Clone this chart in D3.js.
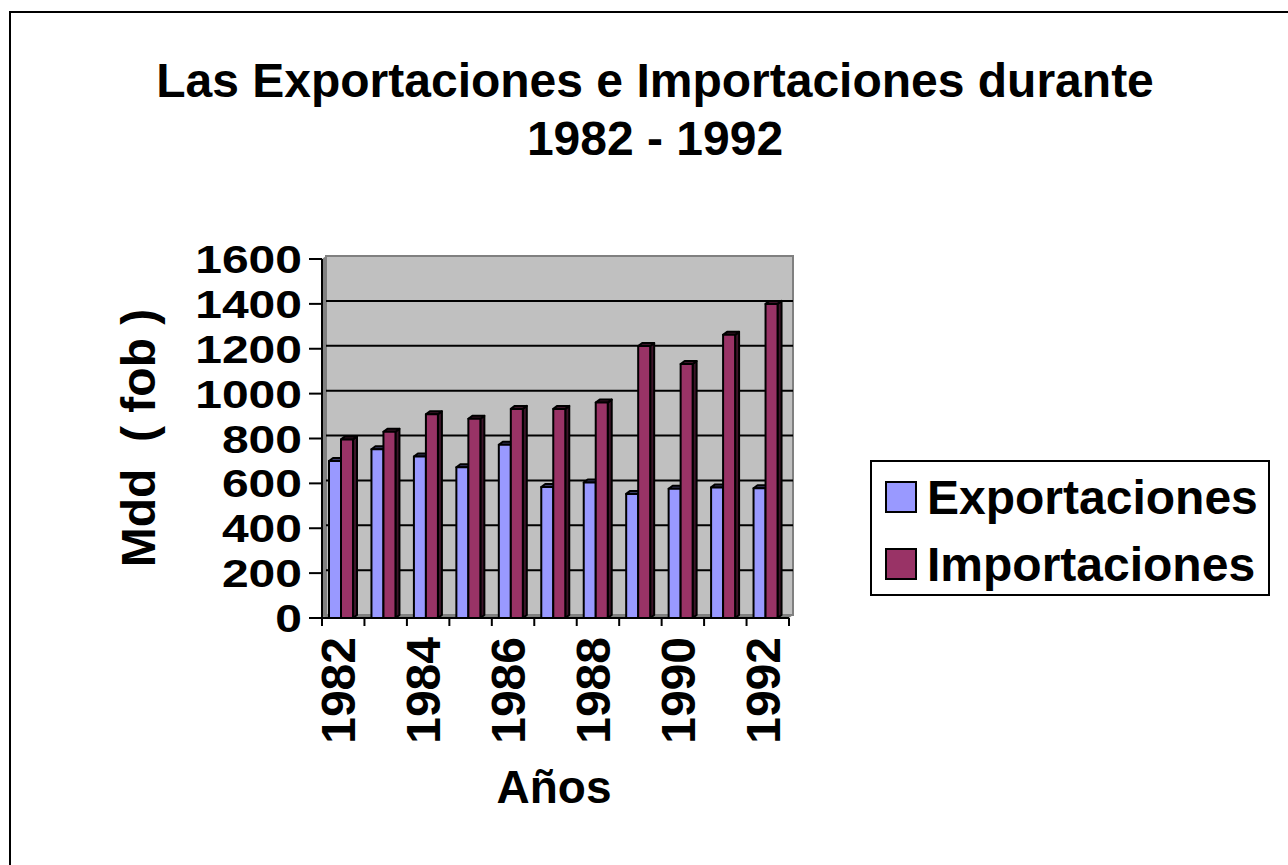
<!DOCTYPE html>
<html>
<head>
<meta charset="utf-8">
<script src="https://cdn.jsdelivr.net/npm/d3@7"></script>
<style>
  body { margin: 0; background: #fff; }
  svg { display: block; font-family: 'Liberation Sans', Arial, sans-serif; font-weight: bold; }
</style>
</head>
<body>
<script>
const years = ['1982', '1983', '1984', '1985', '1986', '1987', '1988', '1989', '1990', '1991', '1992'];
const yearLabels = ['1982', '1984', '1986', '1988', '1990', '1992'];
const exportaciones = [700, 752, 720, 672, 772, 584, 604, 553, 576, 582, 578];
const importaciones = [796, 830, 908, 888, 932, 932, 960, 1212, 1132, 1262, 1400];
const series = ['Exportaciones', 'Importaciones'];
const yTicks = [0, 200, 400, 600, 800, 1000, 1200, 1400, 1600];

const width = 1288;
const height = 865;
const colors = { Exportaciones: '#9999FF', Importaciones: '#993366' };
const darkColors = { Exportaciones: '#3d3d66', Importaciones: '#3d1429' };
const depth = { x: 4, y: -3 };

const svg = d3.select('body')
    .append('svg')
    .attr('width', width)
    .attr('height', height);

// outer frame (right and bottom run off the page)
svg.append('rect')
    .attr('x', 10)
    .attr('y', 12)
    .attr('width', width + 20)
    .attr('height', height + 20)
    .attr('fill', '#fff')
    .attr('stroke', '#000')
    .attr('stroke-width', 2);

// title
const title = svg.append('text')
    .attr('text-anchor', 'middle')
    .style('font-size', '48px');
title.append('tspan').attr('x', 655).attr('y', 97).text('Las Exportaciones e Importaciones durante');
title.append('tspan').attr('x', 655).attr('y', 155).text('1982 - 1992');

const xScale = d3.scaleBand()
    .domain(years)
    .range([322, 789]);

const inner = d3.scaleBand()
    .domain(series)
    .range([7, 31]);

const yScale = d3.scaleLinear()
    .domain([0, 1600])
    .range([618, 259]);

// 3D walls
const x0 = xScale.range()[0], x1 = xScale.range()[1];
const yTop = yScale(1600), yBot = yScale(0);

svg.append('polygon')
    .attr('points', [[x0, yBot], [x1, yBot], [x1 + depth.x, yBot + depth.y], [x0 + depth.x, yBot + depth.y]].join(' '))
    .attr('fill', '#808080');

svg.append('polygon')
    .attr('points', [[x0, yTop], [x0 + depth.x, yTop + depth.y], [x0 + depth.x, yBot + depth.y], [x0, yBot]].join(' '))
    .attr('fill', '#808080');

svg.append('rect')
    .attr('x', x0 + depth.x)
    .attr('y', yTop + depth.y)
    .attr('width', x1 - x0)
    .attr('height', yBot - yTop)
    .attr('fill', '#C0C0C0')
    .attr('stroke', '#808080')
    .attr('stroke-width', 2);

// gridlines on back wall
svg.append('g')
    .selectAll('line')
    .data(yTicks.filter(d => d > 0 && d < 1600))
    .enter()
    .append('line')
    .attr('x1', x0 + depth.x)
    .attr('x2', x1 + depth.x)
    .attr('y1', d => yScale(d) + depth.y)
    .attr('y2', d => yScale(d) + depth.y)
    .attr('stroke', '#000')
    .attr('stroke-width', 2);

// bars
const rows = years.map((y, i) => ({ year: y, Exportaciones: exportaciones[i], Importaciones: importaciones[i] }));

const bars = [];
rows.forEach(r => series.forEach(s => bars.push({ year: r.year, key: s, value: r[s] })));

const barG = svg.append('g')
    .selectAll('g')
    .data(bars)
    .enter()
    .append('g')
    .attr('stroke', '#000')
    .attr('stroke-width', 2)
    .attr('stroke-linejoin', 'round');

const bw = inner.bandwidth();
const bx = d => xScale(d.year) + inner(d.key);

barG.append('polygon')
    .attr('points', d => {
        const x = bx(d), y = yScale(d.value);
        return [[x + bw, y], [x + bw + depth.x, y + depth.y], [x + bw + depth.x, yBot + depth.y], [x + bw, yBot]].join(' ');
    })
    .attr('fill', d => darkColors[d.key]);

barG.append('polygon')
    .attr('points', d => {
        const x = bx(d), y = yScale(d.value);
        return [[x, y], [x + depth.x, y + depth.y], [x + bw + depth.x, y + depth.y], [x + bw, y]].join(' ');
    })
    .attr('fill', d => darkColors[d.key]);

barG.append('rect')
    .attr('x', d => bx(d))
    .attr('y', d => yScale(d.value))
    .attr('width', bw)
    .attr('height', d => yBot - yScale(d.value))
    .attr('fill', d => colors[d.key]);

// y axis
svg.append('line')
    .attr('x1', x0).attr('x2', x0)
    .attr('y1', yTop).attr('y2', yBot)
    .attr('stroke', '#000').attr('stroke-width', 2);

const yAxisG = svg.append('g');
yAxisG.selectAll('line')
    .data(yTicks)
    .enter()
    .append('line')
    .attr('x1', x0 - 13).attr('x2', x0)
    .attr('y1', d => yScale(d)).attr('y2', d => yScale(d))
    .attr('stroke', '#000').attr('stroke-width', 2);

yAxisG.selectAll('text')
    .data(yTicks)
    .enter()
    .append('text')
    .attr('transform', d => 'translate(302,' + (yScale(d) + 14) + ') scale(1,0.8)')
    .attr('text-anchor', 'end')
    .style('font-size', '48px')
    .text(d => d);

// x axis
svg.append('line')
    .attr('x1', x0).attr('x2', x1)
    .attr('y1', yBot).attr('y2', yBot)
    .attr('stroke', '#000').attr('stroke-width', 2);

const xAxisG = svg.append('g');
xAxisG.selectAll('line')
    .data(years.concat(['end']))
    .enter()
    .append('line')
    .attr('x1', d => d === 'end' ? x1 : xScale(d))
    .attr('x2', d => d === 'end' ? x1 : xScale(d))
    .attr('y1', yBot).attr('y2', yBot + 8)
    .attr('stroke', '#000').attr('stroke-width', 2);

xAxisG.selectAll('text')
    .data(yearLabels)
    .enter()
    .append('text')
    .attr('transform', d => 'translate(' + (xScale(d) + 33) + ',637) rotate(-90)')
    .attr('text-anchor', 'end')
    .style('font-size', '48px')
    .text(d => d);

// axis titles
svg.append('text')
    .attr('transform', 'translate(155,438) rotate(-90)')
    .attr('text-anchor', 'middle')
    .style('font-size', '48px')
    .style('white-space', 'pre')
    .text('Mdd  ( fob )');

svg.append('text')
    .attr('x', 554)
    .attr('y', 803)
    .attr('text-anchor', 'middle')
    .style('font-size', '46px')
    .text('Años');

// legend
const legend = svg.append('g');
legend.append('rect')
    .attr('x', 871).attr('y', 461)
    .attr('width', 398).attr('height', 134)
    .attr('fill', '#fff')
    .attr('stroke', '#000').attr('stroke-width', 2);

const items = legend.selectAll('g.item')
    .data(series)
    .enter()
    .append('g')
    .attr('class', 'item')
    .attr('transform', (d, i) => 'translate(0,' + (i * 67) + ')');

items.append('rect')
    .attr('x', 886).attr('y', 482)
    .attr('width', 30).attr('height', 30)
    .attr('fill', d => colors[d])
    .attr('stroke', '#000').attr('stroke-width', 2);

items.append('text')
    .attr('x', 927).attr('y', 514)
    .style('font-size', '48px')
    .text(d => d);
</script>
</body>
</html>
